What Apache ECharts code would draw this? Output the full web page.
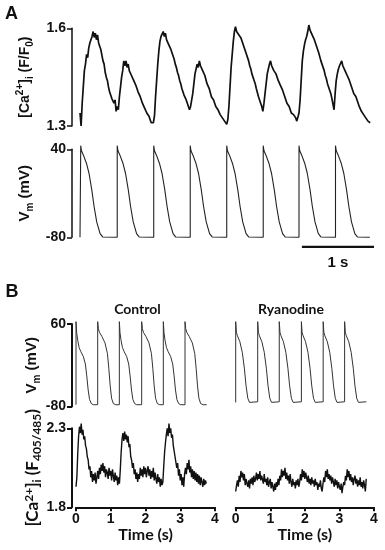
<!DOCTYPE html>
<html><head><meta charset="utf-8">
<script src="https://cdn.jsdelivr.net/npm/echarts@6/dist/echarts.min.js"></script>
<style>html,body{margin:0;padding:0;background:#fff}#c{width:385px;height:550px}</style>
</head><body><div id="c"></div>
<script>
// ---------- DATA ----------
// Panel A: [Ca2+]i (F/F0) vs time (s)
const caA = [[0,1.34],[0.015,1.30],[0.03,1.37],[0.045,1.42],[0.06,1.47],[0.075,1.49],[0.09,1.52],[0.105,1.51],[0.12,1.54],[0.135,1.555],[0.15,1.56],[0.165,1.575],[0.18,1.59],[0.195,1.572],[0.21,1.585],[0.225,1.565],[0.24,1.58],[0.255,1.555],[0.27,1.55],[0.285,1.535],[0.3,1.54],[0.315,1.50],[0.33,1.49],[0.345,1.465],[0.36,1.45],[0.375,1.44],[0.39,1.42],[0.405,1.405],[0.42,1.41],[0.435,1.385],[0.45,1.39],[0.465,1.37],[0.48,1.38],[0.495,1.345],[0.51,1.36],[0.525,1.35],[0.54,1.39],[0.555,1.42],[0.57,1.45],[0.585,1.47],[0.6,1.50],[0.615,1.485],[0.63,1.50],[0.645,1.48],[0.66,1.49],[0.675,1.47],[0.69,1.475],[0.705,1.455],[0.72,1.46],[0.735,1.44],[0.75,1.445],[0.765,1.425],[0.78,1.43],[0.795,1.405],[0.81,1.41],[0.825,1.39],[0.84,1.395],[0.855,1.37],[0.87,1.375],[0.885,1.355],[0.9,1.36],[0.915,1.34],[0.93,1.345],[0.945,1.33],[0.96,1.325],[0.975,1.31],[0.99,1.315],[1.005,1.31],[1.02,1.33],[1.035,1.39],[1.05,1.44],[1.065,1.49],[1.08,1.53],[1.095,1.56],[1.11,1.575],[1.125,1.58],[1.14,1.59],[1.155,1.575],[1.17,1.585],[1.185,1.565],[1.2,1.57],[1.215,1.55],[1.23,1.555],[1.245,1.535],[1.26,1.54],[1.275,1.515],[1.29,1.505],[1.305,1.49],[1.32,1.48],[1.335,1.465],[1.35,1.455],[1.365,1.44],[1.38,1.43],[1.395,1.415],[1.41,1.42],[1.425,1.395],[1.44,1.39],[1.455,1.38],[1.47,1.37],[1.485,1.365],[1.5,1.35],[1.515,1.36],[1.53,1.38],[1.545,1.40],[1.56,1.43],[1.575,1.46],[1.59,1.475],[1.605,1.49],[1.62,1.48],[1.635,1.50],[1.65,1.485],[1.665,1.48],[1.68,1.47],[1.695,1.465],[1.71,1.455],[1.725,1.45],[1.74,1.43],[1.755,1.435],[1.77,1.415],[1.785,1.41],[1.8,1.39],[1.815,1.395],[1.83,1.38],[1.845,1.375],[1.86,1.36],[1.875,1.365],[1.89,1.35],[1.905,1.345],[1.92,1.335],[1.935,1.34],[1.95,1.325],[1.965,1.33],[1.98,1.315],[1.995,1.31],[2.01,1.305],[2.025,1.32],[2.04,1.36],[2.055,1.42],[2.07,1.48],[2.085,1.52],[2.1,1.56],[2.115,1.59],[2.13,1.605],[2.145,1.59],[2.16,1.595],[2.175,1.58],[2.19,1.585],[2.205,1.57],[2.22,1.575],[2.235,1.55],[2.25,1.545],[2.265,1.53],[2.28,1.52],[2.295,1.51],[2.31,1.50],[2.325,1.485],[2.34,1.475],[2.355,1.46],[2.37,1.455],[2.385,1.44],[2.4,1.43],[2.415,1.415],[2.43,1.41],[2.445,1.39],[2.46,1.385],[2.475,1.37],[2.49,1.36],[2.505,1.345],[2.52,1.37],[2.535,1.40],[2.55,1.43],[2.565,1.46],[2.58,1.475],[2.595,1.49],[2.61,1.50],[2.625,1.485],[2.64,1.49],[2.655,1.47],[2.67,1.475],[2.685,1.46],[2.7,1.455],[2.715,1.44],[2.73,1.445],[2.745,1.425],[2.76,1.42],[2.775,1.41],[2.79,1.40],[2.805,1.39],[2.82,1.385],[2.835,1.37],[2.85,1.375],[2.865,1.36],[2.88,1.355],[2.895,1.34],[2.91,1.345],[2.925,1.335],[2.94,1.33],[2.955,1.325],[2.97,1.315],[2.985,1.31],[3.0,1.34],[3.015,1.38],[3.03,1.44],[3.045,1.50],[3.06,1.53],[3.075,1.55],[3.09,1.565],[3.105,1.575],[3.12,1.59],[3.135,1.61],[3.15,1.595],[3.165,1.60],[3.18,1.58],[3.195,1.575],[3.21,1.565],[3.225,1.56],[3.24,1.545],[3.255,1.54],[3.27,1.525],[3.285,1.52],[3.3,1.50],[3.315,1.495],[3.33,1.48],[3.345,1.47],[3.36,1.455],[3.375,1.445],[3.39,1.43],[3.405,1.42],[3.42,1.41],[3.435,1.40],[3.45,1.385],[3.465,1.38],[3.48,1.35],[3.495,1.40],[3.51,1.44],[3.525,1.46],[3.54,1.475],[3.555,1.485],[3.57,1.49],[3.585,1.50],[3.6,1.485],[3.615,1.49],[3.63,1.47],[3.645,1.475],[3.66,1.455],[3.675,1.46],[3.69,1.44],[3.705,1.435],[3.72,1.42],[3.735,1.425],[3.75,1.40],[3.765,1.405],[3.78,1.39],[3.795,1.38],[3.81,1.375],[3.825,1.36],[3.84,1.365],[3.855,1.345],[3.87,1.35],[3.885,1.335],[3.9,1.33],[3.915,1.325],[3.93,1.33],[3.945,1.315],[3.96,1.32],[3.975,1.31]];

// Panel A: Vm (mV) vs time (s)
const vmA = [[0,-80],
[0.01,-80],[0.01,45],[0.02,38],[0.047,32],[0.088,21],[0.124,7],[0.161,-15],[0.193,-38],[0.229,-59],[0.275,-75],[0.31,-79.5],[0.33,-80],
[0.51,-80],[0.51,45],[0.52,38],[0.547,32],[0.588,21],[0.624,7],[0.661,-15],[0.693,-38],[0.729,-59],[0.775,-75],[0.81,-79.5],[0.83,-80],
[1.01,-80],[1.01,45],[1.02,38],[1.047,32],[1.088,21],[1.124,7],[1.161,-15],[1.193,-38],[1.229,-59],[1.275,-75],[1.31,-79.5],[1.33,-80],
[1.51,-80],[1.51,45],[1.52,38],[1.547,32],[1.588,21],[1.624,7],[1.661,-15],[1.693,-38],[1.729,-59],[1.775,-75],[1.81,-79.5],[1.83,-80],
[2.01,-80],[2.01,45],[2.02,38],[2.047,32],[2.088,21],[2.124,7],[2.161,-15],[2.193,-38],[2.229,-59],[2.275,-75],[2.31,-79.5],[2.33,-80],
[2.51,-80],[2.51,45],[2.52,38],[2.547,32],[2.588,21],[2.624,7],[2.661,-15],[2.693,-38],[2.729,-59],[2.775,-75],[2.81,-79.5],[2.83,-80],
[3.0,-80],[3.0,45],[3.01,38],[3.037,32],[3.078,21],[3.114,7],[3.151,-15],[3.183,-38],[3.219,-59],[3.265,-75],[3.3,-79.5],[3.32,-80],
[3.5,-80],[3.5,45],[3.51,38],[3.537,32],[3.578,21],[3.614,7],[3.651,-15],[3.683,-38],[3.719,-59],[3.765,-75],[3.8,-79.5],[3.82,-80],
[3.97,-80]];

// Scale bar: 1 s
const scaleBar = [[3.04,-93],[4.04,-93]];

// Panel B: Control Vm
const vmCtrl = [
[0,-77],[0,64],[0.02,45],[0.05,32],[0.09,20],[0.14,13],[0.21,5],[0.27,-8],[0.31,-28],[0.35,-52],[0.39,-68],[0.44,-75],[0.5,-77],
[0.624,-77],[0.624,64],[0.644,52],[0.674,46],[0.744,39],[0.834,28],[0.904,10],[0.944,-15],[0.984,-45],[1.024,-66],[1.074,-75],[1.144,-77],
[1.247,-77],[1.247,64],[1.267,45],[1.297,32],[1.337,20],[1.387,13],[1.457,5],[1.517,-8],[1.557,-28],[1.597,-52],[1.637,-68],[1.687,-75],[1.747,-77],
[1.89,-77],[1.89,64],[1.91,52],[1.94,46],[2.01,39],[2.1,28],[2.17,10],[2.21,-15],[2.25,-45],[2.29,-66],[2.34,-75],[2.41,-77],
[2.513,-77],[2.513,64],[2.533,45],[2.563,32],[2.603,20],[2.653,13],[2.723,5],[2.783,-8],[2.823,-28],[2.863,-52],[2.903,-68],[2.953,-75],[3.013,-77],
[3.137,-77],[3.137,64],[3.157,52],[3.187,46],[3.257,39],[3.347,28],[3.417,10],[3.457,-15],[3.497,-45],[3.537,-66],[3.587,-75],[3.657,-77],
[3.76,-77]];

// Panel B: Ryanodine Vm
const vmRya = [
[0,-73],[0,64],[0.02,46],[0.05,40],[0.12,30],[0.19,12],[0.25,-15],[0.3,-45],[0.35,-66],[0.4,-73],[0.45,-75],[0.636,-72],
[0.636,64],[0.656,46],[0.686,40],[0.756,30],[0.826,12],[0.886,-15],[0.936,-45],[0.986,-66],[1.036,-73],[1.086,-75],[1.26,-72],
[1.26,64],[1.28,46],[1.31,40],[1.38,30],[1.45,12],[1.51,-15],[1.56,-45],[1.61,-66],[1.66,-73],[1.71,-75],[1.9,-72],
[1.9,64],[1.92,46],[1.95,40],[2.02,30],[2.09,12],[2.15,-15],[2.2,-45],[2.25,-66],[2.3,-73],[2.35,-75],[2.53,-72],
[2.53,64],[2.55,46],[2.58,40],[2.65,30],[2.72,12],[2.78,-15],[2.83,-45],[2.88,-66],[2.93,-73],[2.98,-75],[3.15,-72],
[3.15,64],[3.17,46],[3.2,40],[3.27,30],[3.34,12],[3.4,-15],[3.45,-45],[3.5,-66],[3.55,-73],[3.6,-75],[3.78,-72]];

// Panel B: Control [Ca2+]i (F405/485)
const caCtrl = [[0,1.93],[0.025,1.99],[0.05,2.14],[0.075,2.25],[0.1,2.31],[0.125,2.27],[0.15,2.33],[0.175,2.26],[0.2,2.29],[0.225,2.23],[0.25,2.25],[0.275,2.19],[0.3,2.17],[0.325,2.12],[0.35,2.10],[0.375,2.04],[0.4,2.06],[0.425,1.99],[0.45,2.03],[0.475,1.96],[0.5,2.01],[0.525,1.97],[0.55,2.02],[0.575,1.95],[0.6,1.99],[0.625,2.03],[0.65,1.98],[0.675,2.05],[0.7,2.01],[0.725,2.07],[0.75,2.03],[0.775,2.08],[0.8,2.02],[0.825,2.06],[0.85,1.99],[0.875,2.04],[0.9,2.02],[0.925,1.98],[0.95,2.05],[0.975,2.00],[1.0,2.03],[1.025,1.97],[1.05,2.04],[1.075,2.00],[1.1,1.96],[1.125,2.02],[1.15,1.97],[1.175,2.00],[1.2,1.94],[1.225,1.99],[1.25,1.95],[1.275,2.04],[1.3,2.15],[1.325,2.23],[1.35,2.27],[1.375,2.22],[1.4,2.28],[1.425,2.23],[1.45,2.26],[1.475,2.21],[1.5,2.25],[1.525,2.18],[1.55,2.20],[1.575,2.12],[1.6,2.10],[1.625,2.05],[1.65,2.08],[1.675,2.01],[1.7,2.04],[1.725,1.98],[1.75,2.02],[1.775,1.96],[1.8,2.01],[1.825,1.98],[1.85,2.05],[1.875,2.00],[1.9,2.04],[1.925,1.99],[1.95,2.06],[1.975,2.01],[2.0,2.05],[2.025,1.99],[2.05,2.03],[2.075,2.06],[2.1,2.00],[2.125,2.04],[2.15,1.98],[2.175,2.03],[2.2,1.99],[2.225,2.05],[2.25,1.97],[2.275,2.02],[2.3,1.98],[2.325,1.95],[2.35,2.01],[2.375,1.96],[2.4,1.99],[2.425,1.93],[2.45,1.98],[2.475,1.94],[2.5,1.96],[2.525,2.06],[2.55,2.15],[2.575,2.21],[2.6,2.26],[2.625,2.30],[2.65,2.25],[2.675,2.33],[2.7,2.27],[2.725,2.30],[2.75,2.24],[2.775,2.26],[2.8,2.19],[2.825,2.20],[2.85,2.12],[2.875,2.13],[2.9,2.05],[2.925,2.08],[2.95,2.00],[2.975,2.04],[3.0,1.97],[3.025,2.01],[3.05,1.94],[3.075,1.99],[3.1,1.93],[3.125,2.01],[3.15,2.05],[3.175,2.01],[3.2,2.08],[3.225,2.04],[3.25,2.10],[3.275,2.02],[3.3,2.06],[3.325,1.99],[3.35,2.04],[3.375,1.98],[3.4,2.03],[3.425,1.97],[3.45,2.02],[3.475,1.96],[3.5,2.01],[3.525,1.95],[3.55,2.00],[3.575,1.94],[3.6,1.99],[3.625,1.96],[3.65,1.93],[3.675,1.98],[3.7,1.94],[3.725,1.97],[3.75,1.95]];

// Panel B: Ryanodine [Ca2+]i (F405/485)
const caRya = [[0,1.90],[0.025,1.94],[0.05,1.97],[0.075,1.93],[0.1,2.00],[0.125,1.96],[0.15,2.03],[0.175,1.99],[0.2,2.02],[0.225,1.97],[0.25,2.01],[0.275,1.94],[0.3,1.98],[0.325,1.95],[0.35,1.93],[0.375,1.97],[0.4,1.92],[0.425,1.98],[0.45,1.95],[0.475,1.99],[0.5,1.94],[0.525,2.00],[0.55,1.96],[0.575,1.98],[0.6,2.02],[0.625,1.97],[0.65,2.01],[0.675,1.98],[0.7,2.03],[0.725,1.97],[0.75,2.00],[0.775,1.99],[0.8,1.95],[0.825,2.01],[0.85,1.96],[0.875,1.98],[0.9,1.94],[0.925,1.99],[0.95,1.93],[0.975,1.96],[1.0,1.98],[1.025,1.92],[1.05,1.96],[1.075,1.93],[1.1,1.90],[1.125,1.95],[1.15,1.91],[1.175,1.96],[1.2,1.93],[1.225,1.98],[1.25,1.94],[1.275,2.00],[1.3,1.97],[1.325,2.04],[1.35,1.99],[1.375,2.03],[1.4,2.00],[1.425,2.05],[1.45,1.98],[1.475,2.02],[1.5,1.97],[1.525,2.00],[1.55,1.95],[1.575,2.01],[1.6,1.96],[1.625,1.93],[1.65,1.98],[1.675,1.94],[1.7,1.96],[1.725,1.92],[1.75,1.97],[1.775,1.94],[1.8,1.98],[1.825,1.93],[1.85,1.96],[1.875,2.01],[1.9,1.97],[1.925,2.04],[1.95,1.99],[1.975,2.03],[2.0,1.98],[2.025,2.02],[2.05,1.99],[2.075,1.96],[2.1,2.00],[2.125,1.95],[2.15,1.98],[2.175,1.94],[2.2,1.99],[2.225,1.95],[2.25,1.97],[2.275,1.93],[2.3,1.98],[2.325,1.94],[2.35,1.96],[2.375,1.91],[2.4,1.95],[2.425,1.93],[2.45,1.97],[2.475,1.92],[2.5,1.90],[2.525,1.95],[2.55,1.99],[2.575,1.96],[2.6,2.03],[2.625,1.99],[2.65,2.04],[2.675,1.98],[2.7,2.01],[2.725,1.97],[2.75,2.00],[2.775,1.95],[2.8,1.99],[2.825,1.96],[2.85,1.93],[2.875,1.98],[2.9,1.94],[2.925,1.97],[2.95,1.92],[2.975,1.96],[3.0,1.93],[3.025,1.91],[3.05,1.95],[3.075,1.89],[3.1,1.93],[3.125,1.96],[3.15,1.94],[3.175,2.00],[3.2,1.97],[3.225,2.04],[3.25,1.99],[3.275,2.03],[3.3,1.97],[3.325,2.01],[3.35,1.96],[3.375,1.99],[3.4,1.94],[3.425,1.98],[3.45,2.00],[3.475,1.95],[3.5,1.98],[3.525,1.93],[3.55,1.97],[3.575,1.94],[3.6,1.99],[3.625,1.93],[3.65,1.96],[3.675,1.92],[3.7,1.97],[3.725,1.94],[3.75,1.90],[3.775,1.98]];

// Tick labels
const ticksCaA = [1.3, 1.6];
const ticksVmA = [-80, 40];
const ticksVmB = [-80, 60];
const ticksCaB = [1.8, 2.3];
const timeTicks = [0, 1, 2, 3, 4];

// ---------- CHART ----------
const AR = '"Liberation Sans", Arial, sans-serif';
const CAL = 'Lato, "Open Sans", sans-serif';
const INK = '#111';

function yAx(gi, min, max, ticks, lw, nameRich, nameGap, fmt, offset) {
  return {
    type: 'value', gridIndex: gi, min: min, max: max, position: 'left', offset: offset,
    axisLine: {show: true, onZero: false, lineStyle: {color: INK, width: lw}},
    axisTick: {show: true, customValues: ticks, length: 5, lineStyle: {color: INK, width: lw}},
    axisLabel: {show: true, customValues: ticks, margin: 6, color: INK, fontSize: 14, fontWeight: 'bold', fontFamily: AR, formatter: fmt},
    splitLine: {show: false},
    name: nameRich.text, nameLocation: 'middle', nameRotate: 90, nameGap: nameGap,
    nameTextStyle: {color: INK, rich: nameRich.rich}
  };
}
function hiddenY(gi, min, max) {
  return {type: 'value', gridIndex: gi, min: min, max: max, show: false, splitLine: {show: false}};
}
function hiddenX(gi) {
  return {type: 'value', gridIndex: gi, min: 0, max: 4, show: false, splitLine: {show: false}};
}
function timeX(gi) {
  return {
    type: 'value', gridIndex: gi, min: timeTicks[0], max: timeTicks[timeTicks.length - 1], interval: 1,
    axisLine: {show: true, onZero: false, lineStyle: {color: INK, width: 2}},
    axisTick: {show: true, length: 4, lineStyle: {color: INK, width: 2}},
    axisLabel: {show: true, margin: 5, color: INK, fontSize: 14, fontWeight: 'bold', fontFamily: AR},
    splitLine: {show: false},
    name: 'Time (s)', nameLocation: 'middle', nameGap: 18,
    nameTextStyle: {color: INK, fontSize: 16, fontWeight: 'bold', fontFamily: CAL}
  };
}
function richStyles(base, fam) {
  return {
    n: {fontSize: base, fontWeight: 'bold', fontFamily: fam, color: INK, lineHeight: 20},
    sup: {fontSize: Math.round(base*0.68), fontWeight: 'bold', fontFamily: fam, color: INK, verticalAlign: 'top', lineHeight: 11},
    sub: {fontSize: Math.round(base*0.68), fontWeight: 'bold', fontFamily: fam, color: INK, verticalAlign: 'bottom', lineHeight: 11}
  };
}
const nameCaA = {text: '{n|[Ca}{sup|2+}{n|]}{sub|i}{n| (F/F}{sub|0}{n|)}', rich: richStyles(14, AR)};
const nameVmA = {text: '{n|V}{sub|m}{n| (mV)}', rich: richStyles(15, AR)};
const nameVmB = {text: '{n|V}{sub|m}{n| (mV)}', rich: richStyles(15, AR)};
const nameCaB = {text: '{n|[Ca}{sup|2+}{n|]}{sub|i}{n| (F}{sub|405/485}{n|)}', rich: richStyles(17, CAL)};

const fmt1 = v => v.toFixed(1);
const fmt0 = v => String(v);

function line(xi, yi, data, w, color) {
  return {type: 'line', xAxisIndex: xi, yAxisIndex: yi, data: data, showSymbol: false, symbol: 'none',
    clip: false, silent: true, animation: false, lineStyle: {color: color || INK, width: w}};
}

const option = {
  animation: false,
  backgroundColor: '#fff',
  grid: [
    {left: 80, top: 28.3, width: 292, height: 97.7, outerBoundsMode: 'none'},
    {left: 80, top: 149.3, width: 292, height: 88, outerBoundsMode: 'none'},
    {left: 76, top: 324, width: 139, height: 82.5, outerBoundsMode: 'none'},
    {left: 235.7, top: 324, width: 138.3, height: 82.5, outerBoundsMode: 'none'},
    {left: 76, top: 428.3, width: 139, height: 79, outerBoundsMode: 'none'},
    {left: 235.7, top: 428.3, width: 138.3, height: 79, outerBoundsMode: 'none'}
  ],
  xAxis: [hiddenX(0), hiddenX(1), hiddenX(2), hiddenX(3), timeX(4), timeX(5)],
  yAxis: [
    yAx(0, 1.3, 1.6, ticksCaA, 1.5, nameCaA, 32, fmt1, 8),
    yAx(1, -80, 40, ticksVmA, 1.5, nameVmA, 30, fmt0, 8),
    yAx(2, -80, 60, ticksVmB, 2, nameVmB, 24, fmt0, 4),
    hiddenY(3, -80, 60),
    yAx(4, 1.8, 2.3, ticksCaB, 2, nameCaB, 23, fmt1, 4),
    hiddenY(5, 1.8, 2.3)
  ],
  series: [
    line(0, 0, caA, 1.7),
    line(1, 1, vmA, 1.1, '#222'),
    line(1, 1, scaleBar, 2.2),
    line(2, 2, vmCtrl, 1, '#333'),
    line(3, 3, vmRya, 1, '#333'),
    line(4, 4, caCtrl, 1.4),
    line(5, 5, caRya, 1.4)
  ],
  graphic: [
    {type: 'text', x: 11.5, y: 14, style: {text: 'A', fill: INK, fontSize: 18, fontWeight: 'bold', fontFamily: AR, align: 'center', verticalAlign: 'middle'}},
    {type: 'text', x: 12, y: 292, style: {text: 'B', fill: INK, fontSize: 18, fontWeight: 'bold', fontFamily: AR, align: 'center', verticalAlign: 'middle'}},
    {type: 'text', x: 338, y: 263, style: {text: '1 s', fill: INK, fontSize: 15, fontWeight: 'bold', fontFamily: AR, align: 'center', verticalAlign: 'middle'}},
    {type: 'text', x: 137.5, y: 309, style: {text: 'Control', fill: INK, fontSize: 14, fontWeight: 'bold', fontFamily: CAL, align: 'center', verticalAlign: 'middle'}},
    {type: 'text', x: 291, y: 309, style: {text: 'Ryanodine', fill: INK, fontSize: 14, fontWeight: 'bold', fontFamily: CAL, align: 'center', verticalAlign: 'middle'}}
  ]
};
const chart = echarts.init(document.getElementById('c'), null, {renderer: 'canvas'});
chart.setOption(option);
</script>
</body></html>
